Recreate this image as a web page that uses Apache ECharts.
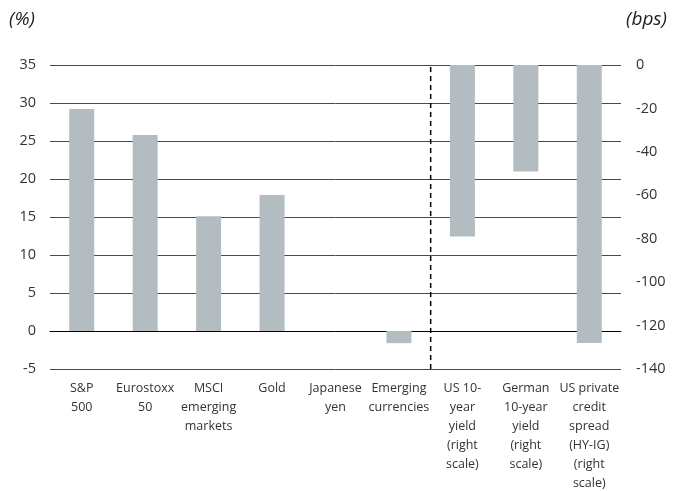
<!DOCTYPE html>
<html>
<head>
<meta charset="utf-8">
<script src="https://cdn.jsdelivr.net/npm/echarts@6/dist/echarts.min.js"></script>
<style>
  html, body { margin: 0; padding: 0; background: #fff; }
  #chart { width: 686px; height: 491px; }
</style>
</head>
<body>
<div id="chart"></div>
<script>
const categories = [
  'S&P\n500', 'Eurostoxx\n50', 'MSCI\nemerging\nmarkets', 'Gold', 'Japanese\nyen',
  'Emerging\ncurrencies', 'US 10-\nyear\nyield\n(right\nscale)',
  'German\n10-year\nyield\n(right\nscale)', 'US private\ncredit\nspread\n(HY-IG)\n(right\nscale)'
];
// left scale, %
const pctValues = [29.2, 25.8, 15.1, 17.9, 0, -1.6, '-', '-', '-'];
// right scale, bps
const bpsValues = ['-', '-', '-', '-', '-', '-', -79, -49, -128];
const leftTicks = { min: -5, max: 35, step: 5 };
const rightTicks = { min: -140, max: 0, step: 20 };
// dashed divider sits on the boundary before this category index
const dividerAt = 6;

const font = 'Open Sans';
const textColor = '#333';
const barColor = '#b3bdc1';

const chart = echarts.init(document.getElementById('chart'));
chart.setOption({
  animation: false,
  grid: {
    left: 50, right: 65, top: 65, bottom: 122,
    containLabel: false, outerBoundsMode: 'none'
  },
  graphic: [
    { type: 'text', left: 9, top: 10,
      style: { text: '(%)', font: 'italic 19px "Open Sans"', fill: '#222' } },
    { type: 'text', left: 626, top: 10,
      style: { text: '(bps)', font: 'italic 19px "Open Sans"', fill: '#222' } }
  ],
  xAxis: [
    {
      type: 'category',
      data: categories,
      axisLine: { onZero: true, onZeroAxisIndex: 0, lineStyle: { color: '#000', width: 1 } },
      axisTick: { inside: true, length: 5, lineStyle: { color: '#000' } },
      axisLabel: {
        interval: 0, margin: 10, color: textColor, fontFamily: font,
        fontSize: 12.5, lineHeight: 19
      }
    },
    { type: 'value', min: 0, max: categories.length, show: false }
  ],
  yAxis: [
    {
      type: 'value', min: leftTicks.min, max: leftTicks.max, interval: leftTicks.step,
      axisLine: { show: false }, axisTick: { show: false },
      axisLabel: { color: textColor, fontFamily: font, fontSize: 14.5, margin: 14 },
      splitLine: { lineStyle: { color: '#4a4a4a', width: 1 } }
    },
    {
      type: 'value', min: rightTicks.min, max: rightTicks.max, interval: rightTicks.step,
      position: 'right',
      axisLine: { show: false }, axisTick: { show: false },
      axisLabel: { color: textColor, fontFamily: font, fontSize: 14.5, margin: 15 },
      splitLine: { show: false }
    }
  ],
  series: [
    {
      type: 'bar', data: pctValues, xAxisIndex: 0, yAxisIndex: 0,
      barWidth: 25, barGap: '-100%', itemStyle: { color: barColor }
    },
    {
      type: 'bar', data: bpsValues, xAxisIndex: 0, yAxisIndex: 1,
      barWidth: 25, barGap: '-100%', itemStyle: { color: barColor }
    },
    {
      type: 'line', xAxisIndex: 1, yAxisIndex: 0, symbol: 'none', silent: true,
      data: [[dividerAt, leftTicks.min], [dividerAt, leftTicks.max]],
      lineStyle: { color: '#000', width: 1.5, type: [5, 4] }
    }
  ]
});
</script>
</body>
</html>
